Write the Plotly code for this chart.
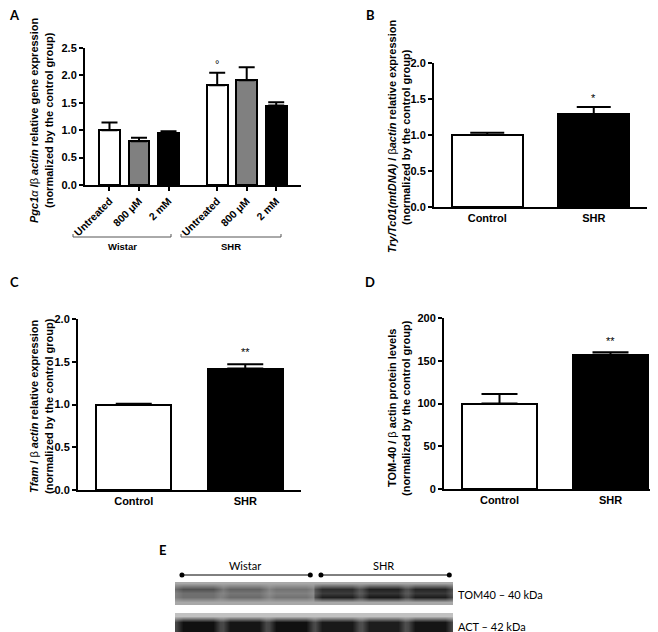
import numpy as np
import plotly.graph_objects as go

# ---------------- data ----------------
# Panel A
a_groups = ["Wistar", "SHR"]
a_treatments = ["Untreated", "800 \u03bcM", "2 mM"]
a_values = [[1.00, 0.80, 0.95], [1.82, 1.91, 1.45]]
a_errors = [[0.14, 0.06, 0.03], [0.23, 0.24, 0.06]]
a_colors = ["white", "#808080", "black"]
a_marks = [["", "", ""], ["\u00b0", "", ""]]

# Panels B, C, D
two_categories = ["Control", "SHR"]
two_colors = ["white", "black"]
b_values = [1.00, 1.29]
b_errors = [0.03, 0.10]
b_marks = ["", "*"]
c_values = [1.00, 1.42]
c_errors = [0.01, 0.05]
c_marks = ["", "**"]
d_values = [100, 157]
d_errors = [11, 3]
d_marks = ["", "**"]

# Panel E (western blot band darkness per lane, 0 = blank membrane, 1 = black)
blot_groups = ["Wistar", "SHR"]
tom40_upper = [0.66, 0.58, 0.50, 0.84, 0.89, 0.87]
tom40_lower = [0.52, 0.54, 0.50, 0.90, 0.93, 0.91]
tom40_bg = 0.25
act_band = [0.97, 0.95, 0.97, 0.93, 0.91, 0.95]
act_bg = 0.13
blot_labels = ["TOM40 \u2013 40 kDa", "ACT \u2013 42 kDa"]

FONT = "Liberation Sans"
W, H = 658, 632


def px(x):
    return x / W


def py(y):
    return 1 - y / H


fig = go.Figure()
fig.update_layout(template="none")

axis_common = dict(showline=True, linewidth=2, linecolor="black", showgrid=False, automargin=False,
                   zeroline=False, tickfont=dict(family=FONT, size=11, color="black", weight="bold"))
yaxis_common = dict(axis_common, ticks="outside", ticklen=4, tickwidth=2, tickcolor="black")


def paper_text(x, y, text, size, family=FONT, bold=True, angle=0, xanchor="center"):
    fig.add_annotation(x=px(x), y=py(y), xref="paper", yref="paper", text=text, showarrow=False,
                       textangle=angle, xanchor=xanchor, yanchor="middle",
                       font=dict(family=family, size=size, color="black",
                                 weight="bold" if bold else "normal"))


# ---------------- Panel A ----------------
a_x = []
for gi, g in enumerate(a_groups):
    for ti, t in enumerate(a_treatments):
        xpos = gi * 3.65 + ti
        a_x.append(xpos)
        fig.add_trace(go.Bar(
            x=[xpos], y=[a_values[gi][ti]], width=0.71,
            marker=dict(color=a_colors[ti], line=dict(color="black", width=2)),
            error_y=dict(type="data", array=[a_errors[gi][ti]], arrayminus=[0], symmetric=False,
                         color="black", thickness=2, width=8),
            xaxis="x", yaxis="y", showlegend=False))
        if a_marks[gi][ti]:
            fig.add_annotation(x=xpos, y=a_values[gi][ti] + a_errors[gi][ti] + 0.15,
                               text=a_marks[gi][ti], showarrow=False, xref="x", yref="y",
                               xanchor="center", yanchor="middle",
                               font=dict(family=FONT, size=11, color="black"))

a_ticktext = [t for g in a_groups for t in a_treatments]

fig.update_layout(
    xaxis=dict(axis_common, domain=[px(77), px(293)], range=[-0.83, 6.49], anchor="y",
               tickmode="array", tickvals=a_x, ticktext=a_ticktext, tickangle=-45,
               ticks="outside", ticklen=4, tickwidth=1.5, tickcolor="black",
               tickfont=dict(family=FONT, size=10.5, color="black", weight="bold")),
    yaxis=dict(yaxis_common, domain=[py(177), py(40)], range=[0, 2.5], anchor="x",
               tickvals=[0, 0.5, 1.0, 1.5, 2.0, 2.5], tickformat=".1f"),
)

# group brackets under panel A
bracket_px = [(65, 163), (173, 273)]
for (x0, x1), g in zip(bracket_px, a_groups):
    fig.add_shape(type="line", xref="paper", yref="paper", x0=px(x0), x1=px(x1), y0=py(229), y1=py(229),
                  line=dict(color="#555555", width=1))
    for xe in (x0, x1):
        fig.add_shape(type="line", xref="paper", yref="paper", x0=px(xe), x1=px(xe), y0=py(229), y1=py(226),
                      line=dict(color="#555555", width=1))
    paper_text((x0 + x1) / 2, 238, g, 9.5)


# ---------------- Panels B, C, D ----------------
def two_bar_panel(xn, values, errors, marks, xdom, ydom, yrange, tickvals, tickformat, cap, mark_off):
    xa = "x" + xn
    ya = "y" + xn
    for i, cat in enumerate(two_categories):
        fig.add_trace(go.Bar(
            x=[i], y=[values[i]], width=0.67,
            marker=dict(color=two_colors[i], line=dict(color="black", width=2)),
            error_y=dict(type="data", array=[errors[i]], arrayminus=[0], symmetric=False,
                         color="black", thickness=2, width=cap),
            xaxis=xa, yaxis=ya, showlegend=False))
        if marks[i]:
            fig.add_annotation(x=i, y=values[i] + errors[i] + mark_off, text=marks[i], showarrow=False,
                               xref=xa, yref=ya, xanchor="center", yanchor="middle",
                               font=dict(family=FONT, size=11, color="black"))
    fig.update_layout(**{
        "xaxis" + xn: dict(axis_common, domain=xdom, range=[-0.5, 1.5], anchor=ya,
                           tickmode="array", tickvals=[0, 1], ticktext=two_categories, ticks=""),
        "yaxis" + xn: dict(yaxis_common, domain=ydom, range=yrange, anchor=xa,
                           tickvals=tickvals, tickformat=tickformat),
    })


two_bar_panel("2", b_values, b_errors, b_marks, [px(426), px(639)], [py(199), py(55)], [0, 2.0],
              [0, 0.5, 1.0, 1.5, 2.0], ".1f", 17, 0.13)
two_bar_panel("3", c_values, c_errors, c_marks, [px(70), px(293)], [py(482), py(311)], [0, 2.0],
              [0, 0.5, 1.0, 1.5, 2.0], ".1f", 18, 0.14)
two_bar_panel("4", d_values, d_errors, d_marks, [px(436), px(658)], [py(481), py(310)], [0, 200],
              [0, 50, 100, 150, 200], "d", 18, 13)

# ---------------- Y-axis titles ----------------
G = "<span style='font-weight:normal'>%s</span>"
titles = [
    (26, 41, 112, "<i>Pgc1" + G % "\u03b1" + "</i> /" + G % "\u03b2" + " <i>actin</i> relative gene expression"),
    (384, 398, 129, "<i>Try/Tc01(mtDNA)</i> / " + G % "\u03b2" + "<i>actin</i> relative expression"),
    (26, 41, 398, "<i>Tfam</i> / " + G % "\u03b2" + " <i>actin</i> relative expression"),
    (384, 398, 400, "TOM-40 / " + G % "\u03b2" + " actin protein levels"),
]
for x1, x2, yc, line1 in titles:
    paper_text(x1, yc, line1, 11, angle=-90)
    paper_text(x2, yc, "(normalized by the control group)", 11, angle=-90)

# panel letters
for letter, (lx, ly) in zip("ABCDE", [(6, 7), (362, 7), (6, 274), (362, 274), (154, 542)]):
    paper_text(lx, ly, letter, 13, family="Lato")

# ---------------- Panel E: blot ----------------
n_lanes = len(tom40_upper)
col_offsets = [0.03, 0.18, 0.5, 0.82, 0.97]
col_weights = [0.7, 1.0, 1.0, 1.0, 0.7]
blot_x = [i + o for i in range(n_lanes) for o in col_offsets]


def strip_z(rows, bg):
    z = []
    for row in rows:
        zr = []
        for i in range(n_lanes):
            for w in col_weights:
                zr.append(bg + (row[i] - bg) * w)
        z.append(zr)
    return z


bgrow_t = [tom40_bg] * n_lanes
mid_t = [(u + l) / 2 * 0.88 for u, l in zip(tom40_upper, tom40_lower)]
tom_rows = [bgrow_t, bgrow_t, tom40_lower, mid_t, tom40_upper, bgrow_t]
tom_y = [0, 0.12, 0.35, 0.52, 0.68, 0.95]
bgrow_a = [act_bg] * n_lanes
act_rows = [bgrow_a, bgrow_a, act_band, act_band, bgrow_a, bgrow_a]
act_y = [0, 0.1, 0.35, 0.65, 0.88, 1.0]

scale = [[0, "#dcdcdc"], [1, "#0a0a0a"]]
fig.add_trace(go.Heatmap(x=blot_x, y=tom_y, z=strip_z(tom_rows, tom40_bg), zsmooth="best",
                         colorscale=scale, zmin=0, zmax=1, showscale=False, xaxis="x5", yaxis="y5",
                         hoverinfo="skip"))
fig.add_trace(go.Heatmap(x=blot_x, y=act_y, z=strip_z(act_rows, act_bg), zsmooth="best",
                         colorscale=scale, zmin=0, zmax=1, showscale=False, xaxis="x6", yaxis="y6",
                         hoverinfo="skip"))

for gi, g in enumerate(blot_groups):
    fig.add_trace(go.Scatter(x=[gi * 3 + 0.15, gi * 3 + 2.92], y=[0.5, 0.5], mode="lines+markers",
                             line=dict(color="black", width=1), marker=dict(size=5, color="black"),
                             xaxis="x7", yaxis="y7", showlegend=False, hoverinfo="skip"))
    fig.add_annotation(x=gi * 3 + 1.5, y=py(557), xref="x7", yref="paper", text=g, showarrow=False,
                       xanchor="center", yanchor="middle",
                       font=dict(family="Lato", size=11, color="black"))

hidden = dict(visible=False, showgrid=False, zeroline=False, automargin=False)
fig.update_layout(
    xaxis5=dict(hidden, domain=[px(167), px(445)], range=[0, n_lanes], anchor="y5"),
    yaxis5=dict(hidden, domain=[py(597), py(574)], range=[0, 1], anchor="x5"),
    xaxis6=dict(hidden, domain=[px(167), px(445)], range=[0, n_lanes], anchor="y6"),
    yaxis6=dict(hidden, domain=[py(632), py(605)], range=[0, 1], anchor="x6"),
    xaxis7=dict(hidden, domain=[px(167), px(445)], range=[0, n_lanes], anchor="y7"),
    yaxis7=dict(hidden, domain=[py(572), py(562)], range=[0, 1], anchor="x7"),
)
for lab, yc in zip(blot_labels, [586, 618]):
    paper_text(448, yc, lab, 11, family="Lato", bold=False, xanchor="left")

fig.update_layout(width=W, height=H, margin=dict(l=0, r=0, t=0, b=0, autoexpand=False),
                  paper_bgcolor="white", plot_bgcolor="white", showlegend=False, bargap=0)

fig.write_html("out.html")
